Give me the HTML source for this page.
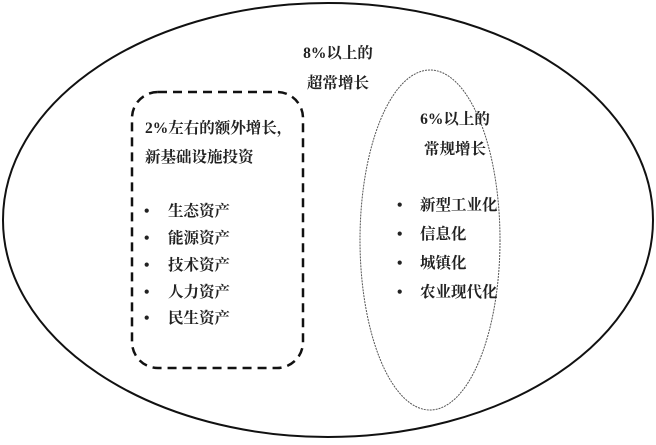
<!DOCTYPE html>
<html><head><meta charset="utf-8"><style>
html,body{margin:0;padding:0;background:#fff;}
svg text{font-family:"Liberation Serif","Noto Serif CJK SC",serif;font-size:15.5px;font-weight:bold;fill:#222;}
svg text.n{font-family:"Liberation Sans","Noto Serif CJK SC",sans-serif;}
</style></head><body>
<svg width="656" height="440" viewBox="0 0 656 440" xmlns="http://www.w3.org/2000/svg">
<ellipse cx="328" cy="220" rx="325" ry="217" fill="none" stroke="#111" stroke-width="2"/>
<rect x="132" y="92" width="171" height="276" rx="26" fill="none" stroke="#111" stroke-width="2.5" stroke-dasharray="9,6"/>
<ellipse cx="430" cy="240" rx="70" ry="170" fill="none" stroke="#555" stroke-width="1" stroke-dasharray="2,1"/>
<text x="338" y="58" text-anchor="middle">8%以上的</text>
<text x="338" y="88" text-anchor="middle">超常增长</text>
<text x="145" y="133">2%左右的额外增长，</text>
<text x="145" y="162">新基础设施投资</text>
<g>
<text x="144" y="216">•</text><text x="168" y="216">生态资产</text>
<text x="144" y="243">•</text><text x="168" y="243">能源资产</text>
<text x="144" y="270">•</text><text x="168" y="270">技术资产</text>
<text x="144" y="297">•</text><text x="168" y="297">人力资产</text>
<text x="144" y="323">•</text><text x="168" y="323">民生资产</text>
</g>
<text x="455" y="124" text-anchor="middle">6%以上的</text>
<text x="455" y="154" text-anchor="middle">常规增长</text>
<text x="397" y="210">•</text><text x="420" y="210">新型工业化</text>
<text x="397" y="239">•</text><text x="420" y="239">信息化</text>
<text x="397" y="268">•</text><text x="420" y="268">城镇化</text>
<text x="397" y="297">•</text><text x="420" y="297">农业现代化</text>
</svg>
</body></html>
